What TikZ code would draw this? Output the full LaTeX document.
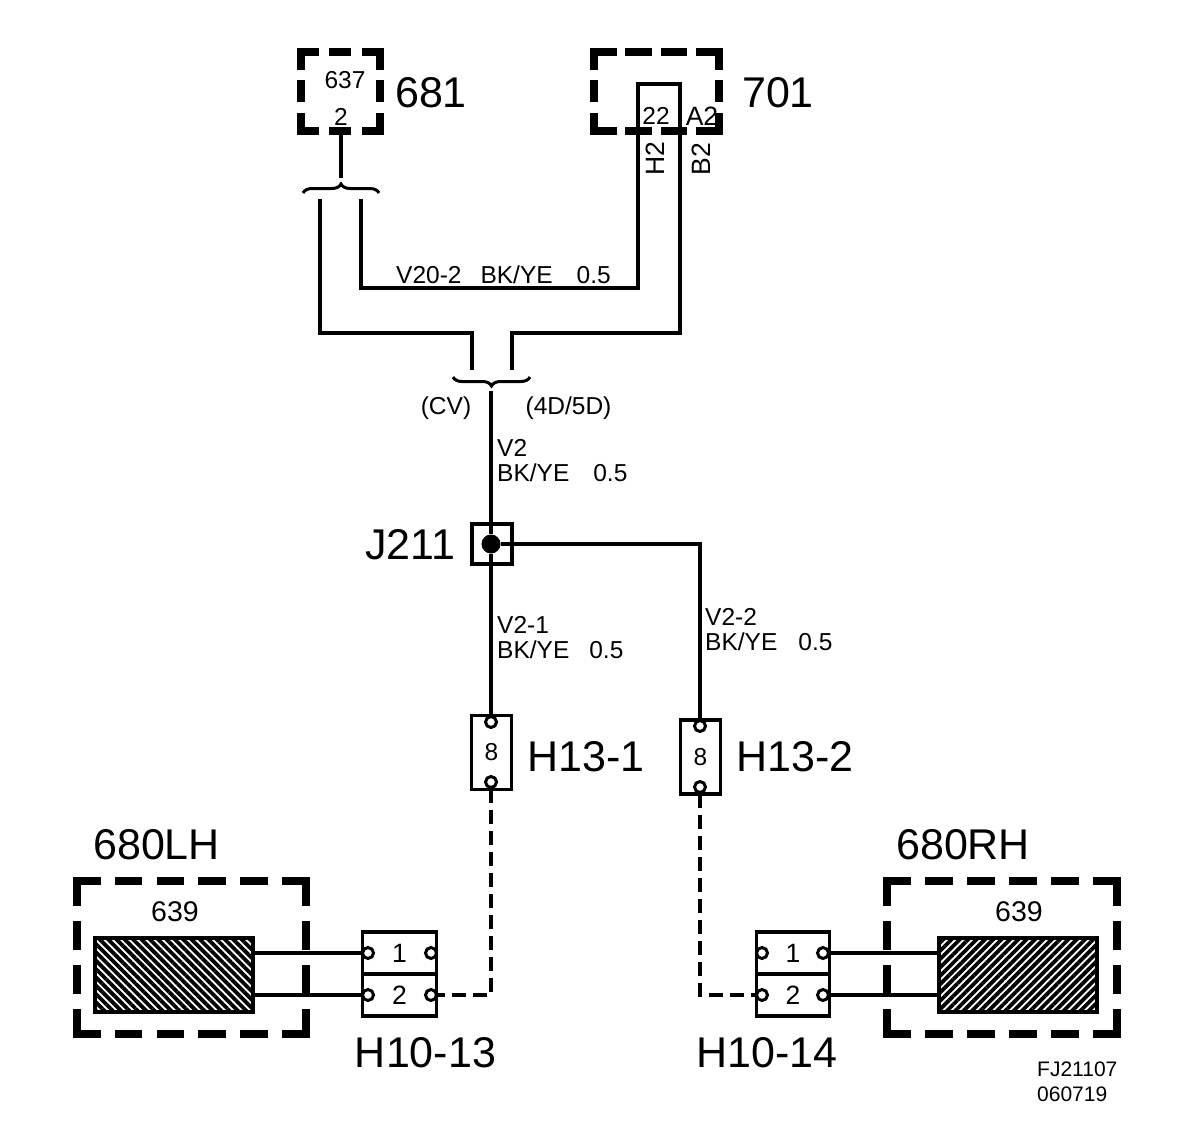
\documentclass[tikz,border=0pt]{standalone}
\usepackage{fontspec}
\setmainfont{Liberation Sans}
\usetikzlibrary{patterns.meta,decorations.pathreplacing}
\tikzset{
  wire/.style={line width=3.2pt},
  dashwire/.style={wire,dash pattern=on 14pt off 7pt},
  heavy/.style={line width=7.5pt,line cap=rect},
  txt/.style={inner sep=0pt,font=\fontsize{24.5}{28}\selectfont},
  wide/.style={inner sep=0pt,font=\fontsize{26.5}{30}\selectfont},
  big/.style={inner sep=0pt,font=\fontsize{43}{47}\selectfont},
  small/.style={inner sep=0pt,font=\fontsize{21}{24}\selectfont},
  coiltxt/.style={inner sep=0pt,font=\fontsize{28.5}{32}\selectfont},
  frame/.style={inner sep=0pt},
  cell/.style={draw,line width=3.5pt},
  pin/.style={circle,draw,fill=white,line width=3pt,inner sep=0pt,minimum size=11pt},
  hatch/.style={draw,line width=4pt,inner sep=0pt,minimum width=158pt,minimum height=74pt},
  bracket/.style={line width=3pt,decorate,decoration={brace,amplitude=9pt}}
}
\begin{document}
\begin{tikzpicture}[x=1pt,y=-1pt]
  \useasboundingbox (0,0) rectangle (1179,1140);

  \node[frame,minimum width=79pt,minimum height=79pt] (f681) at (340.5,91.5) {};
  \node[frame,minimum width=125pt,minimum height=79pt] (f701) at (656.5,91.5) {};
  \node[frame,minimum width=229pt,minimum height=153pt] (f680l) at (191.5,957.5) {};
  \node[frame,minimum width=230pt,minimum height=153pt] (f680r) at (1002,957.5) {};

  \foreach \frm/\hon/\hoff/\von/\voff in {f681/14.5/17.75/14.5/17.75,f701/19/16.33/14.5/17.75,
    f680l/20/21.8/21/23,f680r/20/22/21/23}{
    \draw[heavy,dash pattern=on \hon pt off \hoff pt] (\frm.north west) -- (\frm.north east);
    \draw[heavy,dash pattern=on \hon pt off \hoff pt] (\frm.south west) -- (\frm.south east);
    \draw[heavy,dash pattern=on \von pt off \voff pt] (\frm.north west) -- (\frm.south west);
    \draw[heavy,dash pattern=on \von pt off \voff pt] (\frm.north east) -- (\frm.south east);
  }

  \node[txt] (t637) at (345,80) {637};
  \node[txt] (t2) at (341,117) {2};
  \node[big] (l681) at (431,93) {681};
  \node[big] (l701) at (778,93) {701};
  \node[txt] (t22) at (656,116) {22};
  \node[wide] (ta2) at (702,116) {A2};
  \node[wide,rotate=90] (th2) at (655,159) {H2};
  \node[wide,rotate=90] (tb2) at (701,159) {B2};
  \node[txt,anchor=west] (tv20) at (396,275) {V20-2\hspace{19pt}BK/YE\hspace{24pt}0.5};
  \node[txt] (tcv) at (446,408) {(CV)};
  \node[txt] (t4d) at (568.5,408) {(4D/5D)};
  \node[txt,anchor=west] (tv2) at (497,448) {V2};
  \node[txt,anchor=west] (tv2b) at (497,473) {BK/YE\hspace{24pt}0.5};
  \node[big] (lj211) at (410.5,545) {J211};
  \node[txt,anchor=west] (tv21) at (497,625) {V2-1};
  \node[txt,anchor=west] (tv21b) at (497,650) {BK/YE\hspace{20pt}0.5};
  \node[txt,anchor=west] (tv22) at (705,617) {V2-2};
  \node[txt,anchor=west] (tv22b) at (705,642) {BK/YE\hspace{21pt}0.5};
  \node[big,anchor=west] (lh131) at (527,757) {H13-1};
  \node[big,anchor=west] (lh132) at (736,757) {H13-2};
  \node[big,anchor=west] (l680l) at (93,845) {680LH};
  \node[big,anchor=west] (l680r) at (896,845) {680RH};
  \node[coiltxt] (t639l) at (175,912) {639};
  \node[coiltxt] (t639r) at (1019,912) {639};
  \node[big] (lh1013) at (425.5,1053) {H10-13};
  \node[big] (lh1014) at (767,1053) {H10-14};
  \node[small,anchor=west] (tfj) at (1037,1069) {FJ21107};
  \node[small,anchor=west] (tdate) at (1037,1094) {060719};

  \node[draw,line width=4pt,minimum size=40pt,inner sep=0pt] (j211) at (492,544) {};
  \node[circle,fill=black,minimum size=19pt,inner sep=0pt] (jdot) at (491,544) {};

  \node[txt,cell,minimum width=40pt,minimum height=74pt] (h131) at (491.5,752.5) {8};
  \node[txt,cell,minimum width=40pt,minimum height=74pt] (h132) at (700.5,757) {8};
  \foreach \name/\x/\y in {p131a/491/722,p131b/491/782,p132a/700/726,p132b/700/787}
    \node[pin] (\name) at (\x,\y) {};

  \node[wide,cell,minimum width=74pt,minimum height=42pt] (h13a) at (399.5,953) {1};
  \node[wide,cell,minimum width=74pt,minimum height=42pt] (h13b) at (399.5,995) {2};
  \node[wide,cell,minimum width=73pt,minimum height=42pt] (h14a) at (793,953) {1};
  \node[wide,cell,minimum width=73pt,minimum height=42pt] (h14b) at (793,995) {2};
  \foreach \name/\x/\y in {p13a/368/953,p13b/431/953,p13c/368/995,p13d/431/995,
    p14a/762/953,p14b/823/953,p14c/762/995,p14d/823/995}
    \node[pin] (\name) at (\x,\y) {};

  \node[hatch,pattern={Lines[angle=-45,distance=5.9pt,line width=3.8pt]}] (coill) at (173.5,974.5) {};
  \node[hatch,pattern={Lines[angle=45,distance=5.9pt,line width=3.8pt]}] (coilr) at (1018,974.5) {};

  \coordinate (c681) at (341,131);
  \coordinate (btop) at (341,178);
  \coordinate (bl1) at (303,193);
  \coordinate (br1) at (379,193);
  \coordinate (bl2) at (453,377);
  \coordinate (br2) at (530,377);
  \coordinate (wa) at (320,199);
  \coordinate (wb) at (320,333);
  \coordinate (wc) at (472,333);
  \coordinate (wd) at (472,370);
  \coordinate (we) at (361,199);
  \coordinate (wf) at (361,288);
  \coordinate (wg) at (638,288);
  \coordinate (wh) at (638,84);
  \coordinate (wi) at (680,84);
  \coordinate (wj) at (680,333);
  \coordinate (wk) at (512,333);
  \coordinate (wl) at (512,370);
  \coordinate (wm) at (491,391);
  \coordinate (wn) at (700,544);
  \coordinate (wo) at (491,995);
  \coordinate (wp) at (700,995);

  \draw[wire] (c681) -- (btop);
  \draw[bracket] (bl1) -- (br1);
  \draw[bracket] (br2) -- (bl2);
  \draw[wire] (wa) -- (wb) -- (wc) -- (wd);
  \draw[wire] (we) -- (wf) -- (wg) -- (wh) -- (wi) -- (wj) -- (wk) -- (wl);
  \draw[wire] (wm) -- (jdot);
  \draw[wire] (jdot) -- (p131a);
  \draw[wire] (jdot) -- (wn) -- (p132a);
  \draw[dashwire] (p131b) -- (wo) -- (p13d);
  \draw[dashwire] (p132b) -- (wp) -- (p14c);
  \foreach \to in {p13a,p13c}
    \draw[wire] (coill.east |- \to) -- (\to);
  \foreach \to in {p14b,p14d}
    \draw[wire] (coilr.west |- \to) -- (\to);
\end{tikzpicture}
\end{document}
